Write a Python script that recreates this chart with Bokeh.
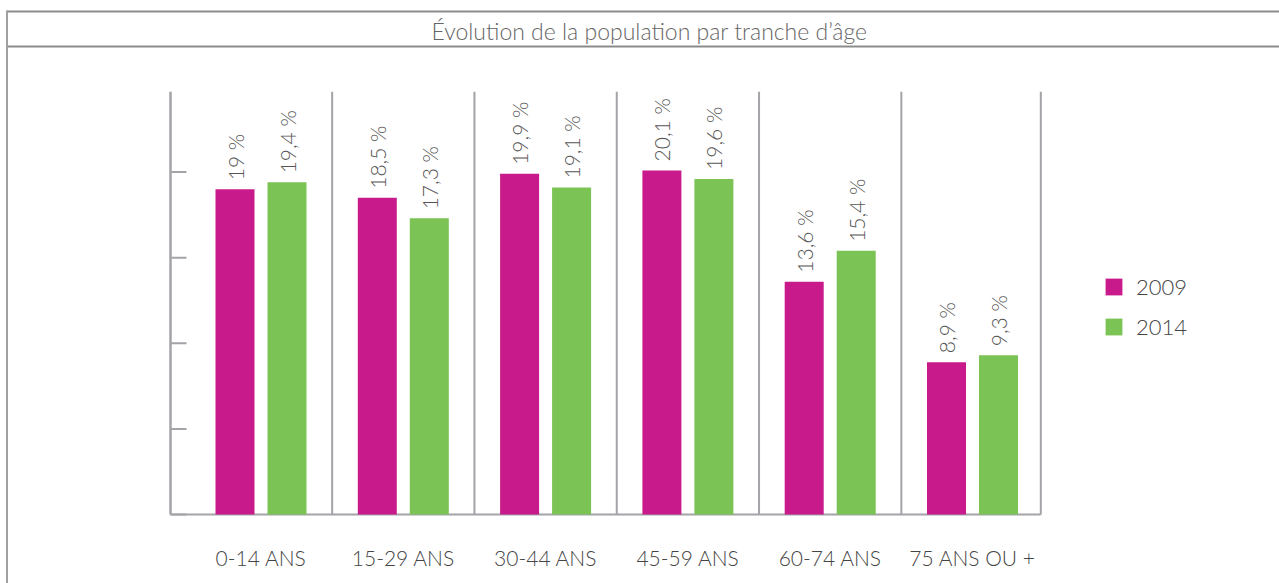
import numpy as np
from bokeh.plotting import figure
from bokeh.models import Range1d, ColumnDataSource, Legend, LegendItem
from bokeh.core.properties import value
from bokeh.transform import dodge
from bokeh.embed import file_html
from bokeh.resources import INLINE

# ---------------- data ----------------
title = "Évolution de la population par tranche d’âge"
categories = ["0-14 ANS", "15-29 ANS", "30-44 ANS", "45-59 ANS", "60-74 ANS", "75 ANS OU +"]
series_names = ["2009", "2014"]
values_2009 = [19.0, 18.5, 19.9, 20.1, 13.6, 8.9]
values_2014 = [19.4, 17.3, 19.1, 19.6, 15.4, 9.3]
y_ticks = [0, 5, 10, 15, 20]
y_axis_top = 24.7

# ---------------- styles / layout ----------------
MAGENTA = "#C91A8B"
GREEN = "#7BC354"
AXIS_COL = "#a3a3a8"
FRAME_COL = "#8c8c8c"
FONT_LIGHT = "'Lato Light', Lato"

W, H = 1279, 583
PX_X = 142.3          # pixels per category
PX_Y = 17.12          # pixels per percent
ORIGIN_X = 260.5      # canvas px of first category centre
BASE_Y = 514          # canvas px (from top) of value 0

x_start = -ORIGIN_X / PX_X
x_end = x_start + W / PX_X
y_start = -(H - BASE_Y) / PX_Y
y_end = y_start + H / PX_Y


def dx(px):
    return x_start + px / PX_X


def dy(py):
    return y_end - py / PX_Y


def fmt(v):
    return ("%g" % v).replace(".", ",") + " %"


BAR_W = 39 / PX_X
OFF = 26 / PX_X
GAP = 9 / PX_Y

src = ColumnDataSource(dict(
    x=list(range(len(categories))),
    cat=categories,
    v09=values_2009,
    v14=values_2014,
    l09=[fmt(v) for v in values_2009],
    l14=[fmt(v) for v in values_2014],
    ly09=[v + GAP for v in values_2009],
    ly14=[v + GAP for v in values_2014],
))

p = figure(width=W, height=H, x_range=Range1d(x_start, x_end), y_range=Range1d(y_start, y_end),
           output_backend="svg", toolbar_location=None, min_border=0,
           x_axis_location=None, y_axis_location=None)
p.grid.visible = False
p.outline_line_color = None
p.background_fill_color = "white"
p.border_fill_color = "white"

# frame / title band
p.segment(x0=[dx(6), dx(6)], y0=[dy(11), dy(46)], x1=[dx(W), dx(W)], y1=[dy(11), dy(46)],
          line_color=FRAME_COL, line_width=2)
p.segment(x0=[dx(6.5)], y0=[dy(10)], x1=[dx(6.5)], y1=[dy(H)], line_color="#a0a0a0", line_width=2)
p.text(x=[dx(649)], y=[dy(30)], text=[title], text_align="center", text_baseline="middle",
       text_font=value(FONT_LIGHT), text_font_size="23px", text_color="#666666")

# axes & separators
AXIS_X = dx(170)
seps = [i + 0.5 for i in range(len(categories) - 1)] + [5.48]
p.segment(x0=seps, y0=[0] * len(seps), x1=seps, y1=[y_axis_top] * len(seps),
          line_color=AXIS_COL, line_width=2)
p.segment(x0=[AXIS_X], y0=[0], x1=[AXIS_X], y1=[y_axis_top], line_color=AXIS_COL, line_width=2.5)
p.segment(x0=[AXIS_X] * len(y_ticks), y0=y_ticks, x1=[AXIS_X + 16 / PX_X] * len(y_ticks), y1=y_ticks,
          line_color=AXIS_COL, line_width=2)
p.segment(x0=[AXIS_X], y0=[0], x1=[5.48], y1=[0], line_color=AXIS_COL, line_width=2)

# bars
r1 = p.vbar(x=dodge("x", -OFF), top="v09", width=BAR_W, bottom=0, source=src,
            fill_color=MAGENTA, line_color=None)
r2 = p.vbar(x=dodge("x", OFF), top="v14", width=BAR_W, bottom=0, source=src,
            fill_color=GREEN, line_color=None)

# value labels
for xcol, ycol, tcol in [(dodge("x", -OFF), "ly09", "l09"), (dodge("x", OFF), "ly14", "l14")]:
    p.text(x=xcol, y=ycol, text=tcol, source=src, angle=np.pi / 2, text_align="left",
           text_baseline="middle", text_font=value(FONT_LIGHT), text_font_size="21px",
           text_color="#555555")

# category labels
p.text(x="x", y=dy(557), text="cat", source=src, text_align="center", text_baseline="middle",
       text_font=value(FONT_LIGHT), text_font_size="21px", text_color="#444444")

legend = Legend(items=[LegendItem(label=series_names[0], renderers=[r1]),
                       LegendItem(label=series_names[1], renderers=[r2])],
                location=(1103, 243), glyph_width=21, glyph_height=21, label_height=17,
                label_standoff=12, spacing=13, padding=0, margin=0,
                border_line_color=None, background_fill_alpha=0,
                label_text_font=FONT_LIGHT, label_text_font_size="22px", label_text_color="#444444")
p.add_layout(legend)

open("out.html", "w").write(file_html(p, INLINE))
